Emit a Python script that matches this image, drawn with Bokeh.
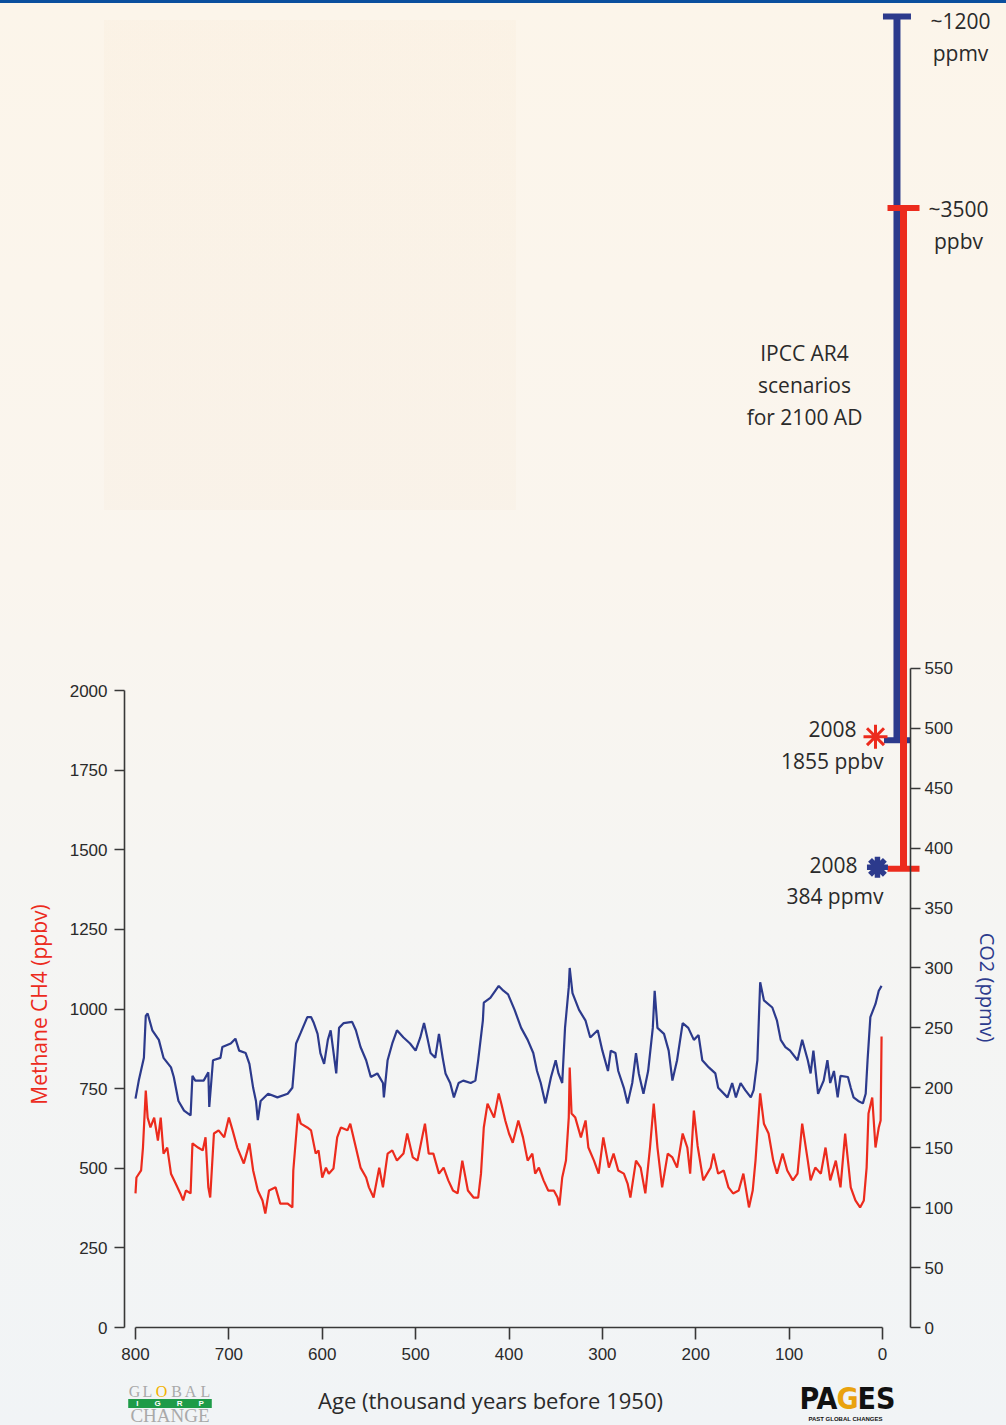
from bokeh.plotting import figure
from bokeh.models import Range1d, LinearAxis, FixedTicker, Label
from bokeh.embed import file_html
from bokeh.resources import INLINE
import math

# ---------------- data ----------------
co2_age = [800, 796.5, 791, 789, 787, 782, 775, 770, 762, 759, 754, 748, 741, 739, 736, 727, 722, 721, 717, 709,
           707, 698, 693, 689, 682, 678, 674, 671, 669, 666, 658, 648, 637, 632, 628, 623, 616, 612, 609, 605,
           602, 598, 594, 591, 585, 582, 577, 568, 564, 559, 553, 548, 541, 535, 534, 530, 525, 520, 513, 506,
           500, 495, 491, 487, 484, 479, 475, 471, 468, 463, 459, 454, 449, 441, 436, 433, 428, 427, 420, 411,
           406, 401, 394, 387, 380, 374, 370, 366, 361, 355, 350, 347, 343, 340, 336, 335, 332, 325, 318, 313,
           305, 300, 294, 291, 286, 283, 277, 273, 268, 264, 261, 256, 251, 246, 244, 241, 234, 229, 225, 220,
           214, 208, 202, 197, 193, 186, 179, 176, 166, 161, 157, 152, 147, 141, 138, 134, 131, 127, 118, 113,
           109, 104, 99, 91, 86, 80, 77, 74, 69, 63, 59, 56, 52, 48, 45, 37, 34, 31, 26, 21,
           18, 16, 13, 7.5, 4, 1]
co2_ppmv = [191, 206, 225, 260, 262, 248, 240, 225, 217, 209, 189, 181, 177, 210, 206, 206, 213, 184, 223, 225,
            234, 237, 241, 231, 229, 220, 200, 189, 173, 189, 195, 192, 195, 200, 237, 246, 259, 259, 254, 245,
            229, 220, 240, 248, 212, 250, 254, 255, 248, 234, 223, 209, 212, 204, 192, 223, 237, 248, 242, 237,
            231, 242, 254, 240, 229, 225, 245, 225, 212, 204, 192, 204, 206, 204, 206, 223, 256, 271, 275, 285,
            281, 278, 265, 250, 240, 229, 214, 204, 187, 209, 223, 212, 204, 250, 284, 300, 279, 265, 256, 242,
            248, 231, 214, 231, 229, 214, 200, 187, 204, 229, 212, 195, 214, 250, 281, 250, 245, 231, 206, 223,
            254, 250, 240, 244, 223, 217, 212, 200, 192, 204, 192, 204, 198, 192, 198, 223, 288, 273, 267, 256,
            240, 234, 231, 223, 240, 223, 212, 231, 195, 206, 223, 204, 214, 192, 210, 209, 200, 192, 189, 187,
            195, 223, 259, 270, 281, 285]

ch4_age = [800, 799, 794, 792, 789, 787, 784, 780, 776, 773, 770, 766, 762, 757, 752, 749, 746, 741, 739, 733,
           728, 725, 722, 720, 716, 711, 705, 700, 696, 691, 684, 678, 674, 669, 664, 661, 657, 650, 645, 637,
           632, 631, 626, 623, 616, 612, 607, 604, 600, 596, 593, 588, 584, 580, 573, 570, 564, 559, 553, 550,
           545, 539, 535, 530, 525, 520, 513, 509, 503, 498, 493, 490, 486, 481, 475, 470, 465, 460, 455, 450,
           444, 438, 433, 430, 427, 423, 416, 411, 408, 404, 400, 396, 390, 385, 380, 375, 372, 368, 363, 358,
           352, 348, 346, 343, 339, 336, 335, 333, 329, 323, 318, 315, 309, 304, 299, 293, 288, 283, 277, 273,
           270, 264, 259, 254, 249, 245, 241, 236, 230, 225, 220, 214, 209, 206, 202, 198, 192, 184, 181, 176,
           170, 165, 160, 154, 149, 143, 139, 136, 131, 127, 122, 117, 113, 107, 102, 96, 91, 86, 80, 77,
           72, 66, 61, 56, 50, 45, 40, 34, 29, 24, 20, 17, 15, 11, 7.5, 4, 2, 1]
ch4_ppbv = [421, 471, 493, 565, 744, 659, 628, 659, 587, 659, 546, 565, 483, 452, 421, 399, 430, 421, 578, 565,
            556, 597, 440, 408, 609, 619, 597, 659, 619, 565, 515, 578, 493, 430, 399, 358, 430, 440, 389, 389,
            377, 493, 672, 640, 628, 619, 546, 556, 471, 502, 483, 499, 597, 628, 619, 640, 565, 502, 471, 440,
            408, 502, 440, 546, 556, 524, 546, 609, 534, 524, 597, 640, 546, 546, 483, 502, 462, 430, 421, 524,
            430, 408, 408, 483, 628, 703, 659, 735, 700, 650, 609, 580, 650, 597, 524, 546, 483, 502, 462, 430,
            430, 408, 383, 471, 524, 659, 816, 672, 659, 597, 650, 565, 524, 483, 597, 502, 546, 493, 483, 452,
            408, 524, 502, 421, 565, 703, 565, 440, 546, 534, 502, 609, 565, 483, 681, 570, 462, 502, 546, 483,
            493, 440, 421, 430, 483, 377, 430, 524, 735, 640, 609, 524, 483, 546, 493, 462, 483, 640, 524, 462,
            502, 483, 565, 462, 524, 440, 609, 440, 399, 377, 399, 502, 672, 722, 565, 628, 650, 914]

co2_2008 = [384]            # ppmv
ch4_2008 = [1855]           # ppbv
co2_scenario_2100 = [490, 1200]   # ppmv, IPCC AR4 range (top drawn off scale)
ch4_scenario_2100 = [1440, 3515]  # ppbv, IPCC AR4 range

age_ticks = [0, 100, 200, 300, 400, 500, 600, 700, 800]
ch4_ticks = [0, 250, 500, 750, 1000, 1250, 1500, 1750, 2000]
co2_ticks = [0, 50, 100, 150, 200, 250, 300, 350, 400, 450, 500, 550]

# ---------------- styling / layout ----------------
RED = "#ec2b1d"
BLUE = "#2c3a8c"
AX = "#383838"
TXT = "#2a2a2a"

W, H = 1006, 1425
X0 = 882.0          # pixel column of age 0
Y0 = 1327.0         # pixel row of value 0 on both vertical axes
px_per_kyr = 0.93375
co2_px = 1.1985     # pixels per ppmv
ch4_px = 0.3185     # pixels per ppbv
AXIS_L_X, AXIS_R_X = 124, 910

x_range = Range1d(X0 / px_per_kyr, -(W - X0) / px_per_kyr)
y_range = Range1d(-(H - Y0) / co2_px, Y0 / co2_px)
ch4_range = Range1d(-(H - Y0) / ch4_px, Y0 / ch4_px)

p = figure(width=W, height=H, output_backend="svg", toolbar_location=None,
           x_range=x_range, y_range=y_range,
           min_border_left=0, min_border_right=0, min_border_top=0, min_border_bottom=0,
           x_axis_location=None, y_axis_location=None)
p.extra_y_ranges = {"ch4": ch4_range}
p.background_fill_alpha = 0
p.border_fill_alpha = 0
p.outline_line_color = None
p.xgrid.visible = False
p.ygrid.visible = False


def style_axis(ax, tick_out):
    ax.axis_line_color = AX
    ax.axis_line_width = 1.6
    ax.major_tick_line_color = AX
    ax.major_tick_line_width = 1.6
    ax.major_tick_in = 0
    ax.major_tick_out = tick_out
    ax.minor_tick_line_color = None
    ax.major_label_text_font = "Liberation Sans"
    ax.major_label_text_font_size = "17px"
    ax.major_label_text_color = TXT


ax_b = LinearAxis(ticker=FixedTicker(ticks=age_ticks), bounds=(0, 800), fixed_location=0)
style_axis(ax_b, 12)
ax_b.major_label_standoff = 8
p.add_layout(ax_b, "below")

ax_l = LinearAxis(y_range_name="ch4", ticker=FixedTicker(ticks=ch4_ticks), bounds=(0, 2000),
                  fixed_location=(X0 - AXIS_L_X) / px_per_kyr)
style_axis(ax_l, 10)
ax_l.major_label_standoff = 7
p.add_layout(ax_l, "left")

ax_r = LinearAxis(ticker=FixedTicker(ticks=co2_ticks), bounds=(0, 550),
                  fixed_location=(X0 - AXIS_R_X) / px_per_kyr)
style_axis(ax_r, 10)
ax_r.major_label_standoff = 4
p.add_layout(ax_r, "right")

# ---- records ----
p.line(co2_age, co2_ppmv, line_color=BLUE, line_width=2.2)
p.line(ch4_age, ch4_ppbv, line_color=RED, line_width=2.2, y_range_name="ch4")

# ---- scenario bars (positioned right of the present day) ----
bar_off_co2 = -15.5
bar_off_ch4 = -22.5
k = 1.0 / px_per_kyr
co2_top_drawn = min(co2_scenario_2100[1], (Y0 - 16) / co2_px)
p.segment(x0=[bar_off_co2], y0=[co2_scenario_2100[0]], x1=[bar_off_co2], y1=[co2_top_drawn],
          line_color=BLUE, line_width=7)
p.segment(x0=[bar_off_co2 + 13 * k, bar_off_co2 + 14 * k], y0=[co2_scenario_2100[0], co2_top_drawn],
          x1=[bar_off_co2 - 13 * k, bar_off_co2 - 14 * k], y1=[co2_scenario_2100[0], co2_top_drawn],
          line_color=BLUE, line_width=6)
p.segment(x0=[bar_off_ch4], y0=[ch4_scenario_2100[0]], x1=[bar_off_ch4], y1=[ch4_scenario_2100[1]],
          line_color=RED, line_width=7, y_range_name="ch4")
p.segment(x0=[bar_off_ch4 + 16 * k] * 2, y0=ch4_scenario_2100, x1=[bar_off_ch4 - 16 * k] * 2,
          y1=ch4_scenario_2100, line_color=RED, line_width=6, y_range_name="ch4")

# ---- 2008 markers ----
p.scatter([7.5], ch4_2008, marker="asterisk", size=24, line_width=3, line_color=RED, y_range_name="ch4")
p.scatter([5.4], co2_2008, marker="asterisk", size=21, line_width=5.5, line_color=BLUE)


# ---- texts (frame == whole canvas: sx = X, sy = H - Y) ----
def lab(text, X, Y, size="21px", align="center", color=TXT, font="Open Sans", style="normal", **kw):
    p.add_layout(Label(x=X, y=H - Y, x_units="screen", y_units="screen", text=text,
                       text_align=align, text_baseline="middle", text_font_size=size,
                       text_color=color, text_font=font, text_font_style=style, **kw))


lab("Methane CH4 (ppbv)", 38, 1004, size="21px", color=RED, angle=math.pi / 2)
lab("CO2 (ppmv)", 987, 987, size="20px", color=BLUE, angle=-math.pi / 2)
lab("~1200", 960, 20)
lab("ppmv", 960, 52)
lab("~3500", 958, 208)
lab("ppbv", 958, 240)
lab("IPCC AR4", 804, 352)
lab("scenarios", 804, 384)
lab("for 2100 AD", 804, 416)
lab("2008", 856, 728, align="right")
lab("%d ppbv" % ch4_2008[0], 883, 760, align="right")
lab("2008", 857, 864, align="right")
lab("%d ppmv" % co2_2008[0], 883, 895, align="right")
lab("Age (thousand years before 1950)", 490, 1399, size="22px")

# GLOBAL CHANGE logo
for ch, cx, col in zip("GLOBAL", [134, 147, 161, 176, 190, 205],
                       ["#a9a9a9", "#a9a9a9", "#f2b200", "#a9a9a9", "#a9a9a9", "#a9a9a9"]):
    lab(ch, cx, 1391, size="16px", color=col, font="Liberation Serif")
lab("\u2002\u2002I\u2002\u2002\u2002\u2002G\u2002\u2002\u2002\u2002R\u2002\u2002\u2002\u2002P\u2002\u2002",
    169.5, 1403, size="8px", color="white", font="Liberation Sans", style="bold",
    background_fill_color="#1e9b48")
lab("CHANGE", 169.5, 1415, size="19px", color="#a9a9a9", font="Liberation Serif")

# PAGES logo
NARROW = "Liberation Sans Narrow, DejaVu Sans Condensed, sans-serif"
lab("PA", 837, 1398, size="30px", align="right", color="#111111", font=NARROW, style="bold")
lab("G", 847, 1398, size="30px", color="#e9a20e", font=NARROW, style="bold")
lab("ES", 857, 1398, size="30px", align="left", color="#111111", font=NARROW, style="bold")
lab("PAST GLOBAL CHANGES", 845, 1418, size="6px", color="#111111", font="Liberation Sans", style="bold")

html = file_html(p, INLINE)
css = ("<style>html{min-height:100%;background:"
       "linear-gradient(rgba(230,190,140,0.05),rgba(230,190,140,0.05)) 104px 20px/412px 490px no-repeat,"
       "linear-gradient(to bottom,#0b4f9e 0px,#0b4f9e 3px,#fcf5ea 3px,#faf5ee 40%,#f5f5f3 65%,#f1f4f6 100%);}"
       "body{background:transparent;}</style>")
html = html.replace("<head>", "<head>" + css, 1)
open("out.html", "w").write(html)
